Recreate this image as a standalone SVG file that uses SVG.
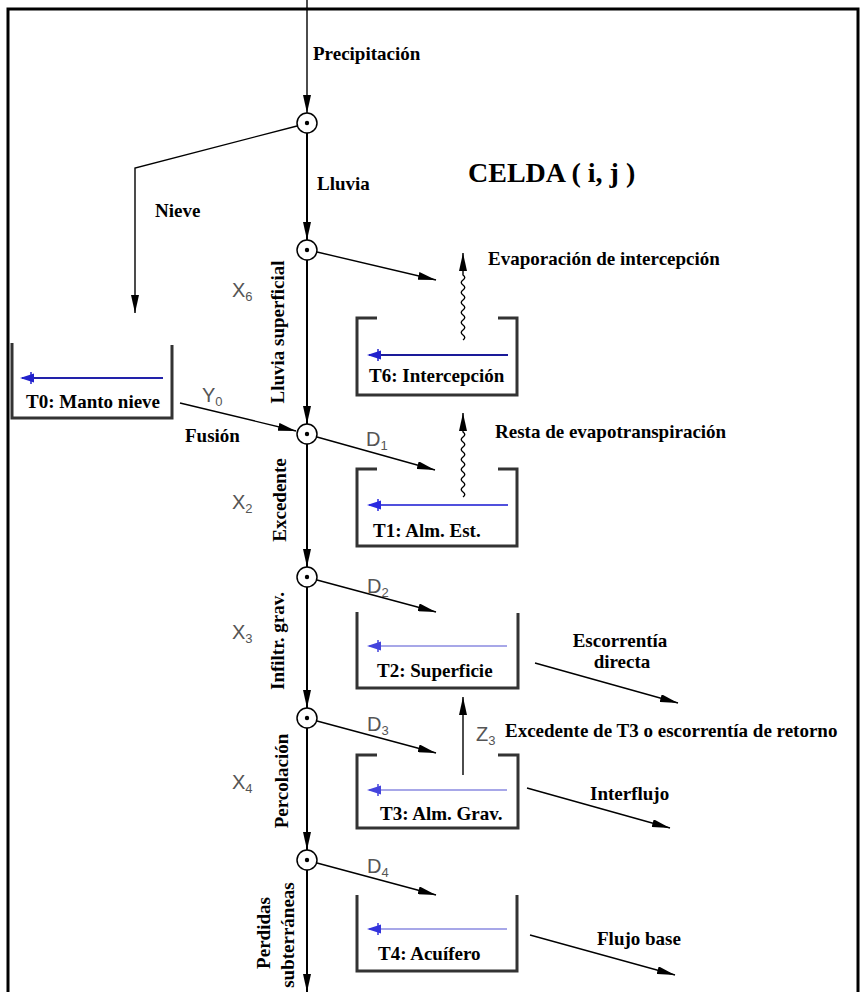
<svg xmlns="http://www.w3.org/2000/svg" width="862" height="992" viewBox="0 0 862 992">
<style>
.t{font-family:"Liberation Serif","Times New Roman",serif;font-weight:bold;font-size:19px;fill:#000}
.v{font-family:"Liberation Sans",Arial,sans-serif;font-size:20px;fill:#555}
.s{font-size:13px}
.ln{stroke:#000;stroke-width:1.4;fill:none}
.main{stroke:#000;stroke-width:2;fill:none}
.wall{stroke:#333;stroke-width:3;fill:none}
.node{fill:#fff;stroke:#000;stroke-width:1.5}
</style>
<defs>
<marker id="ah" markerUnits="userSpaceOnUse" markerWidth="18" markerHeight="8" refX="18" refY="4" orient="auto" viewBox="0 0 18 8">
<path d="M0,0 L18,4 L0,8 Z" fill="#000"/>
</marker>
</defs>
<rect x="8" y="9" width="850" height="995" fill="none" stroke="#000" stroke-width="3"/>

<g id="connectors">
<line class="ln" x1="307" y1="0" x2="307" y2="113" marker-end="url(#ah)"/>
<line class="main" x1="307" y1="133" x2="307" y2="240" marker-end="url(#ah)"/>
<line class="main" x1="307" y1="260" x2="307" y2="424" marker-end="url(#ah)"/>
<line class="main" x1="307" y1="444" x2="307" y2="567" marker-end="url(#ah)"/>
<line class="main" x1="307" y1="587" x2="307" y2="708" marker-end="url(#ah)"/>
<line class="main" x1="307" y1="728" x2="307" y2="850" marker-end="url(#ah)"/>
<line class="main" x1="307" y1="870" x2="307" y2="992" marker-end="url(#ah)"/>
<polyline class="ln" points="297,126 135,168 135,313" marker-end="url(#ah)"/>
<line class="ln" x1="317" y1="252" x2="436" y2="280" marker-end="url(#ah)"/>
<line class="ln" x1="180" y1="403" x2="296" y2="431" marker-end="url(#ah)"/>
<line class="ln" x1="317" y1="437" x2="435" y2="470" marker-end="url(#ah)"/>
<line class="ln" x1="317" y1="580" x2="436" y2="612" marker-end="url(#ah)"/>
<line class="ln" x1="317" y1="721" x2="436" y2="753" marker-end="url(#ah)"/>
<line class="ln" x1="317" y1="863" x2="436" y2="895" marker-end="url(#ah)"/>
<path class="ln" d="M463,340 q3.5,-2.5 0,-5 t0,-5 t0,-5 t0,-5 t0,-5 t0,-5 t0,-5 t0,-5 t0,-5 t0,-5 t0,-5 t0,-5 t0,-5 L463,253" marker-end="url(#ah)"/>
<path class="ln" d="M463,497 q3.5,-2.5 0,-5 t0,-5 t0,-5 t0,-5 t0,-5 t0,-5 t0,-5 t0,-5 t0,-5 t0,-5 t0,-5 t0,-5 t0,-5 L463,413" marker-end="url(#ah)"/>
<line class="ln" x1="463" y1="775" x2="463" y2="697" marker-end="url(#ah)"/>
<line class="ln" x1="535" y1="663" x2="678" y2="703" marker-end="url(#ah)"/>
<line class="ln" x1="527" y1="788" x2="670" y2="828" marker-end="url(#ah)"/>
<line class="ln" x1="530" y1="935" x2="675" y2="975" marker-end="url(#ah)"/>
</g>

<g id="nodes">
<g id="n1"><circle class="node" cx="307" cy="123" r="10"/><circle cx="307" cy="123" r="2.2"/></g>
<g id="n2"><circle class="node" cx="307" cy="250" r="10"/><circle cx="307" cy="250" r="2.2"/></g>
<g id="n3"><circle class="node" cx="307" cy="434" r="10"/><circle cx="307" cy="434" r="2.2"/></g>
<g id="n4"><circle class="node" cx="307" cy="577" r="10"/><circle cx="307" cy="577" r="2.2"/></g>
<g id="n5"><circle class="node" cx="307" cy="718" r="10"/><circle cx="307" cy="718" r="2.2"/></g>
<g id="n6"><circle class="node" cx="307" cy="860" r="10"/><circle cx="307" cy="860" r="2.2"/></g>
</g>

<g id="T0">
<path class="wall" d="M12,343 L12,418 L172,418 L172,345"/>
<line x1="22" y1="378" x2="163" y2="378" stroke="#2222aa" stroke-width="2"/>
<path d="M20,378 L34,373.5 L34,382.5 Z" fill="#2222cc"/><line x1="31" y1="372" x2="31" y2="384" stroke="#2222cc" stroke-width="1.5"/>
<text class="t" x="26" y="408">T0: Manto nieve</text>
</g>
<g id="T6">
<path class="wall" d="M377,318 L357,318 L357,395 L517,395 L517,318 L498,318"/>
<line x1="369" y1="355" x2="508" y2="355" stroke="#1a1a99" stroke-width="2"/>
<path d="M367,355 L381,350.5 L381,359.5 Z" fill="#2222cc"/><line x1="378" y1="349" x2="378" y2="361" stroke="#2222cc" stroke-width="1.5"/>
<text class="t" x="369" y="382">T6: Intercepción</text>
</g>
<g id="T1">
<path class="wall" d="M377,469 L357,469 L357,546 L517,546 L517,469 L498,469"/>
<line x1="369" y1="505" x2="508" y2="505" stroke="#5050dd" stroke-width="1.8"/>
<path d="M367,505 L381,500.5 L381,509.5 Z" fill="#2a2ae0"/><line x1="378" y1="499" x2="378" y2="511" stroke="#2a2ae0" stroke-width="1.5"/>
<text class="t" x="373" y="537">T1: Alm. Est.</text>
</g>
<g id="T2">
<path class="wall" d="M357,612 L357,688 L518,688 L518,613"/>
<line x1="369" y1="646" x2="507" y2="646" stroke="#8a8ae0" stroke-width="1.6"/>
<path d="M367,646 L381,641.5 L381,650.5 Z" fill="#4444dd"/><line x1="378" y1="640" x2="378" y2="652" stroke="#4444dd" stroke-width="1.5"/>
<text class="t" x="377" y="677">T2: Superficie</text>
</g>
<g id="T3">
<path class="wall" d="M377,755 L357,755 L357,828 L518,828 L518,755 L498,755"/>
<line x1="369" y1="790" x2="507" y2="790" stroke="#8a8ae0" stroke-width="1.6"/>
<path d="M367,790 L381,785.5 L381,794.5 Z" fill="#4444dd"/><line x1="378" y1="784" x2="378" y2="796" stroke="#4444dd" stroke-width="1.5"/>
<text class="t" x="380" y="820">T3: Alm. Grav.</text>
</g>
<g id="T4">
<path class="wall" d="M357,895 L357,971 L517,971 L517,895"/>
<line x1="369" y1="929" x2="507" y2="929" stroke="#8a8ae0" stroke-width="1.6"/>
<path d="M367,929 L381,924.5 L381,933.5 Z" fill="#3333dd"/><line x1="378" y1="923" x2="378" y2="935" stroke="#3333dd" stroke-width="1.5"/>
<text class="t" x="378" y="960">T4: Acuífero</text>
</g>

<g id="labels">
<text class="t" x="468" y="182" style="font-size:28px">CELDA ( i, j )</text>
<text class="t" x="313" y="60">Precipitación</text>
<text class="t" x="317" y="190">Lluvia</text>
<text class="t" x="155" y="217">Nieve</text>
<text class="t" x="488" y="265">Evaporación de intercepción</text>
<text class="t" x="495" y="438">Resta de evapotranspiración</text>
<text class="t" x="185" y="442">Fusión</text>
<text class="t" x="620" y="647" text-anchor="middle">Escorrentía</text>
<text class="t" x="622" y="668" text-anchor="middle">directa</text>
<text class="t" x="505" y="737">Excedente de T3 o escorrentía de retorno</text>
<text class="t" x="590" y="800">Interflujo</text>
<text class="t" x="597" y="945">Flujo base</text>
<text class="t" transform="translate(284,332) rotate(-90)" text-anchor="middle">Lluvia superficial</text>
<text class="t" transform="translate(286,500) rotate(-90)" text-anchor="middle">Excedente</text>
<text class="t" transform="translate(284,641) rotate(-90)" text-anchor="middle">Infiltr. grav.</text>
<text class="t" transform="translate(288,781) rotate(-90)" text-anchor="middle">Percolación</text>
<text class="t" transform="translate(270,933) rotate(-90)" text-anchor="middle">Perdidas</text>
<text class="t" transform="translate(294,935) rotate(-90)" text-anchor="middle">subterráneas</text>
<text class="v" x="232" y="297">X<tspan class="s" dy="4">6</tspan></text>
<text class="v" x="202" y="402">Y<tspan class="s" dy="4">0</tspan></text>
<text class="v" x="366" y="446">D<tspan class="s" dy="4">1</tspan></text>
<text class="v" x="232" y="509">X<tspan class="s" dy="4">2</tspan></text>
<text class="v" x="367" y="593">D<tspan class="s" dy="4">2</tspan></text>
<text class="v" x="232" y="639">X<tspan class="s" dy="4">3</tspan></text>
<text class="v" x="367" y="731">D<tspan class="s" dy="4">3</tspan></text>
<text class="v" x="476" y="741">Z<tspan class="s" dy="4">3</tspan></text>
<text class="v" x="232" y="789">X<tspan class="s" dy="4">4</tspan></text>
<text class="v" x="367" y="873">D<tspan class="s" dy="4">4</tspan></text>
</g>
</svg>
